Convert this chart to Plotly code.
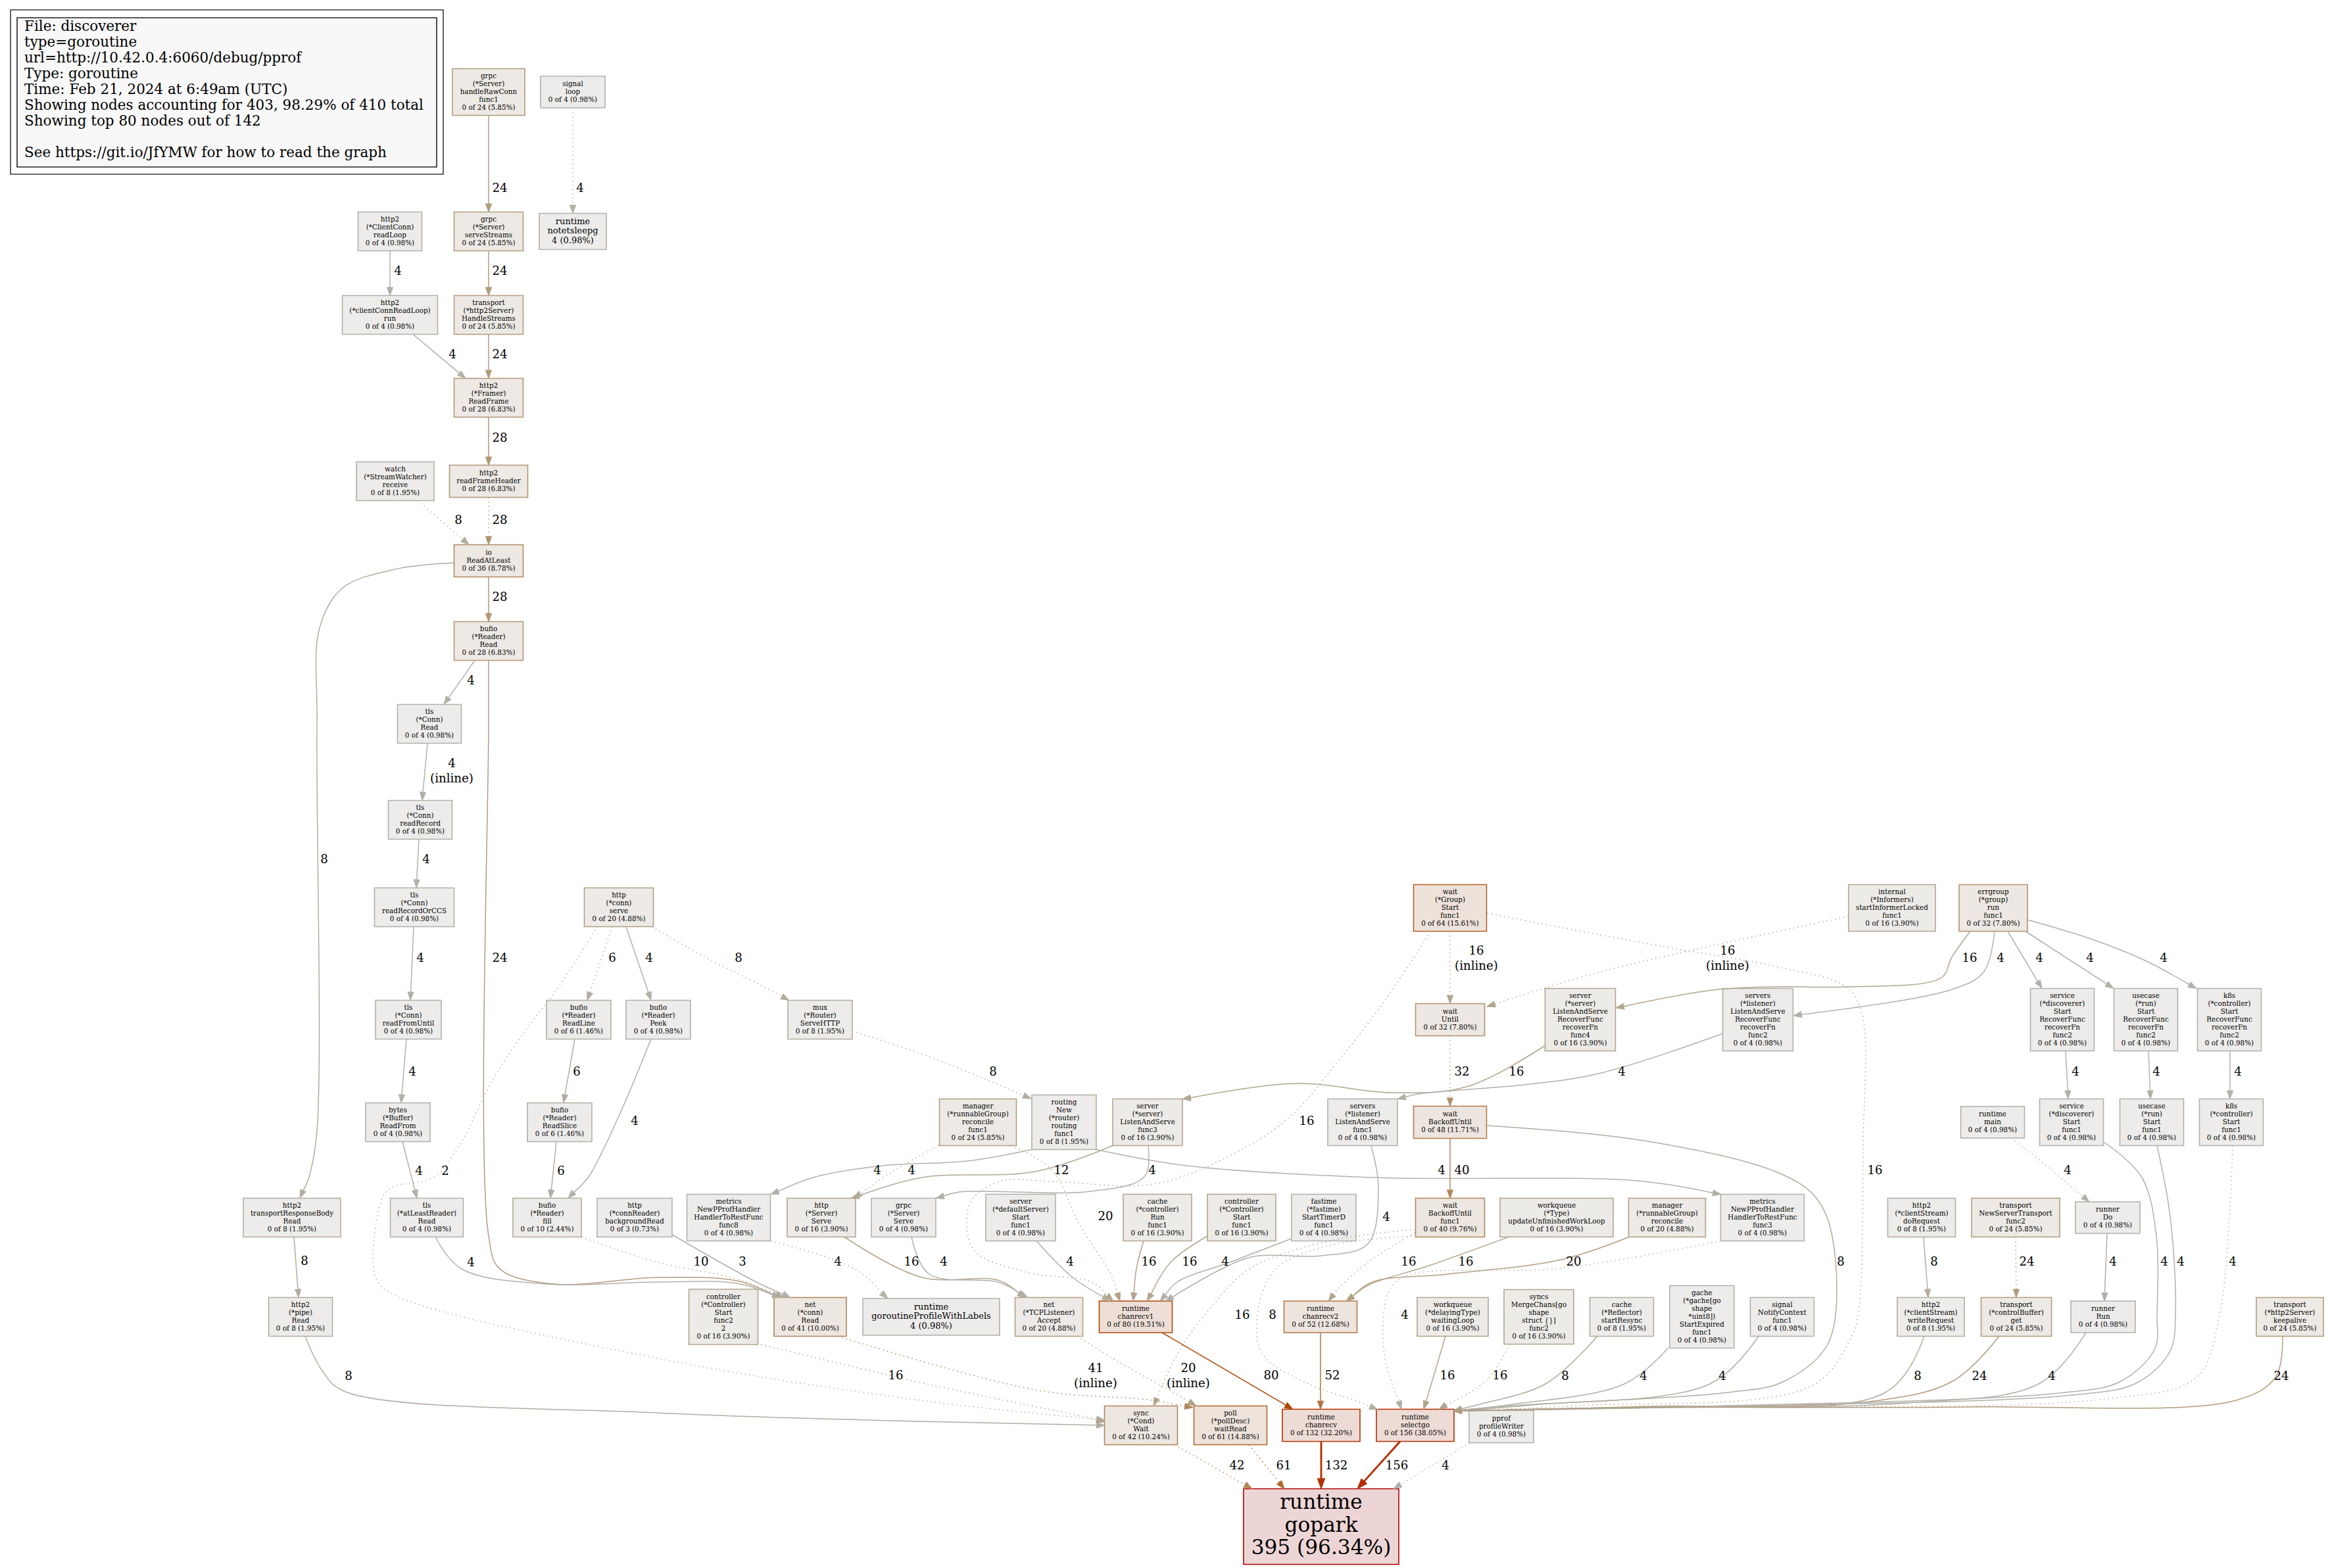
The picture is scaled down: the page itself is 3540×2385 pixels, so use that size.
import math
import plotly.graph_objects as go

W, H = 3540, 2385
TOTAL = 410

# ---------------- legend text ----------------
legend_lines = [
    "File: discoverer",
    "type=goroutine",
    "url=http://10.42.0.4:6060/debug/pprof",
    "Type: goroutine",
    "Time: Feb 21, 2024 at 6:49am (UTC)",
    "Showing nodes accounting for 403, 98.29% of 410 total",
    "Showing top 80 nodes out of 142",
    "",
    "See https://git.io/JfYMW for how to read the graph",
]

# ---------------- node data ----------------
node_keys = [
    "handleRawConn", "signalLoop", "readLoop", "serveStreams", "notetsleepg",
    "ccrlRun", "handleStreams", "readFrame", "watchReceive", "readFrameHeader",
    "readAtLeast", "bufioRead", "tlsRead", "readRecord", "readRecordOrCCS",
    "httpServe", "readFromUntil", "readLine", "peek", "mux",
    "waitUntil", "serverRecover", "serversRecover", "serviceRecover", "usecaseRecover",
    "k8sRecover", "groupStart", "informers", "errgroup", "bytesReadFrom",
    "readSlice", "managerFunc1", "routing", "serverFunc3", "serversFunc1",
    "backoffUntil", "runtimeMain", "serviceFunc1", "usecaseFunc1", "k8sFunc1",
    "trbRead", "atLeastReader", "fill", "backgroundRead", "metricsFunc8",
    "httpServerServe", "grpcServe", "defaultServer", "cacheRun", "controllerFunc1",
    "fastime", "backoffFunc1", "updateLoop", "managerReconcile", "metricsFunc3",
    "doRequest", "newServerTransport", "runnerDo", "pipeRead", "controllerFunc2",
    "netConnRead", "goroutineProfile", "accept", "chanrecv1", "chanrecv2",
    "waitingLoop", "mergeChans", "startResync", "gache", "notifyContext",
    "writeRequest", "controlBufferGet", "runnerRun", "keepalive", "condWait",
    "waitRead", "chanrecv", "selectgo", "profileWriter", "gopark",
]

node_labels = [
    "grpc\n(*Server)\nhandleRawConn\nfunc1\n0 of 24 (5.85%)",
    "signal\nloop\n0 of 4 (0.98%)",
    "http2\n(*ClientConn)\nreadLoop\n0 of 4 (0.98%)",
    "grpc\n(*Server)\nserveStreams\n0 of 24 (5.85%)",
    "runtime\nnotetsleepg\n4 (0.98%)",
    "http2\n(*clientConnReadLoop)\nrun\n0 of 4 (0.98%)",
    "transport\n(*http2Server)\nHandleStreams\n0 of 24 (5.85%)",
    "http2\n(*Framer)\nReadFrame\n0 of 28 (6.83%)",
    "watch\n(*StreamWatcher)\nreceive\n0 of 8 (1.95%)",
    "http2\nreadFrameHeader\n0 of 28 (6.83%)",
    "io\nReadAtLeast\n0 of 36 (8.78%)",
    "bufio\n(*Reader)\nRead\n0 of 28 (6.83%)",
    "tls\n(*Conn)\nRead\n0 of 4 (0.98%)",
    "tls\n(*Conn)\nreadRecord\n0 of 4 (0.98%)",
    "tls\n(*Conn)\nreadRecordOrCCS\n0 of 4 (0.98%)",
    "http\n(*conn)\nserve\n0 of 20 (4.88%)",
    "tls\n(*Conn)\nreadFromUntil\n0 of 4 (0.98%)",
    "bufio\n(*Reader)\nReadLine\n0 of 6 (1.46%)",
    "bufio\n(*Reader)\nPeek\n0 of 4 (0.98%)",
    "mux\n(*Router)\nServeHTTP\n0 of 8 (1.95%)",
    "wait\nUntil\n0 of 32 (7.80%)",
    "server\n(*server)\nListenAndServe\nRecoverFunc\nrecoverFn\nfunc4\n0 of 16 (3.90%)",
    "servers\n(*listener)\nListenAndServe\nRecoverFunc\nrecoverFn\nfunc2\n0 of 4 (0.98%)",
    "service\n(*discoverer)\nStart\nRecoverFunc\nrecoverFn\nfunc2\n0 of 4 (0.98%)",
    "usecase\n(*run)\nStart\nRecoverFunc\nrecoverFn\nfunc2\n0 of 4 (0.98%)",
    "k8s\n(*controller)\nStart\nRecoverFunc\nrecoverFn\nfunc2\n0 of 4 (0.98%)",
    "wait\n(*Group)\nStart\nfunc1\n0 of 64 (15.61%)",
    "internal\n(*Informers)\nstartInformerLocked\nfunc1\n0 of 16 (3.90%)",
    "errgroup\n(*group)\nrun\nfunc1\n0 of 32 (7.80%)",
    "bytes\n(*Buffer)\nReadFrom\n0 of 4 (0.98%)",
    "bufio\n(*Reader)\nReadSlice\n0 of 6 (1.46%)",
    "manager\n(*runnableGroup)\nreconcile\nfunc1\n0 of 24 (5.85%)",
    "routing\nNew\n(*router)\nrouting\nfunc1\n0 of 8 (1.95%)",
    "server\n(*server)\nListenAndServe\nfunc3\n0 of 16 (3.90%)",
    "servers\n(*listener)\nListenAndServe\nfunc1\n0 of 4 (0.98%)",
    "wait\nBackoffUntil\n0 of 48 (11.71%)",
    "runtime\nmain\n0 of 4 (0.98%)",
    "service\n(*discoverer)\nStart\nfunc1\n0 of 4 (0.98%)",
    "usecase\n(*run)\nStart\nfunc1\n0 of 4 (0.98%)",
    "k8s\n(*controller)\nStart\nfunc1\n0 of 4 (0.98%)",
    "http2\ntransportResponseBody\nRead\n0 of 8 (1.95%)",
    "tls\n(*atLeastReader)\nRead\n0 of 4 (0.98%)",
    "bufio\n(*Reader)\nfill\n0 of 10 (2.44%)",
    "http\n(*connReader)\nbackgroundRead\n0 of 3 (0.73%)",
    "metrics\nNewPProfHandler\nHandlerToRestFunc\nfunc8\n0 of 4 (0.98%)",
    "http\n(*Server)\nServe\n0 of 16 (3.90%)",
    "grpc\n(*Server)\nServe\n0 of 4 (0.98%)",
    "server\n(*defaultServer)\nStart\nfunc1\n0 of 4 (0.98%)",
    "cache\n(*controller)\nRun\nfunc1\n0 of 16 (3.90%)",
    "controller\n(*Controller)\nStart\nfunc1\n0 of 16 (3.90%)",
    "fastime\n(*fastime)\nStartTimerD\nfunc1\n0 of 4 (0.98%)",
    "wait\nBackoffUntil\nfunc1\n0 of 40 (9.76%)",
    "workqueue\n(*Type)\nupdateUnfinishedWorkLoop\n0 of 16 (3.90%)",
    "manager\n(*runnableGroup)\nreconcile\n0 of 20 (4.88%)",
    "metrics\nNewPProfHandler\nHandlerToRestFunc\nfunc3\n0 of 4 (0.98%)",
    "http2\n(*clientStream)\ndoRequest\n0 of 8 (1.95%)",
    "transport\nNewServerTransport\nfunc2\n0 of 24 (5.85%)",
    "runner\nDo\n0 of 4 (0.98%)",
    "http2\n(*pipe)\nRead\n0 of 8 (1.95%)",
    "controller\n(*Controller)\nStart\nfunc2\n2\n0 of 16 (3.90%)",
    "net\n(*conn)\nRead\n0 of 41 (10.00%)",
    "runtime\ngoroutineProfileWithLabels\n4 (0.98%)",
    "net\n(*TCPListener)\nAccept\n0 of 20 (4.88%)",
    "runtime\nchanrecv1\n0 of 80 (19.51%)",
    "runtime\nchanrecv2\n0 of 52 (12.68%)",
    "workqueue\n(*delayingType)\nwaitingLoop\n0 of 16 (3.90%)",
    "syncs\nMergeChans[go\nshape\nstruct {}]\nfunc2\n0 of 16 (3.90%)",
    "cache\n(*Reflector)\nstartResync\n0 of 8 (1.95%)",
    "gache\n(*gache[go\nshape\n*uint8])\nStartExpired\nfunc1\n0 of 4 (0.98%)",
    "signal\nNotifyContext\nfunc1\n0 of 4 (0.98%)",
    "http2\n(*clientStream)\nwriteRequest\n0 of 8 (1.95%)",
    "transport\n(*controlBuffer)\nget\n0 of 24 (5.85%)",
    "runner\nRun\n0 of 4 (0.98%)",
    "transport\n(*http2Server)\nkeepalive\n0 of 24 (5.85%)",
    "sync\n(*Cond)\nWait\n0 of 42 (10.24%)",
    "poll\n(*pollDesc)\nwaitRead\n0 of 61 (14.88%)",
    "runtime\nchanrecv\n0 of 132 (32.20%)",
    "runtime\nselectgo\n0 of 156 (38.05%)",
    "pprof\nprofileWriter\n0 of 4 (0.98%)",
    "runtime\ngopark\n395 (96.34%)",
]

node_cum = [
    24, 4, 4, 24, 4, 4, 24, 28, 8, 28,
    36, 28, 4, 4, 4, 20, 4, 6, 4, 8,
    32, 16, 4, 4, 4, 4, 64, 16, 32, 4,
    6, 24, 8, 16, 4, 48, 4, 4, 4, 4,
    8, 4, 10, 3, 4, 16, 4, 4, 16, 16,
    4, 40, 16, 20, 4, 8, 24, 4, 8, 16,
    41, 4, 20, 80, 52, 16, 16, 8, 4, 4,
    8, 24, 4, 24, 42, 61, 132, 156, 4, 395,
]
node_flat = [0] * 80
node_flat[node_keys.index("notetsleepg")] = 4
node_flat[node_keys.index("goroutineProfile")] = 4
node_flat[node_keys.index("gopark")] = 395

# ---------------- node layout (pixel centres and box sizes) ----------------
node_cx = [
    743, 871, 593, 743, 871, 593, 743, 743, 601, 743,
    743, 743, 653, 639, 630, 941, 621, 880, 1001, 1247,
    2205, 2403, 2673, 3136, 3263, 3390, 2205, 2877, 3031, 605,
    851, 1487, 1618, 1745, 2072, 2205, 3030, 3150, 3272, 3393,
    444, 649, 832, 965, 1108, 1249, 1374, 1552, 1760, 1888,
    2013, 2205, 2367, 2535, 2680, 2922, 3065, 3205, 457, 1100,
    1232, 1416, 1595, 1727, 2008, 2209, 2340, 2466, 2588, 2710,
    2936, 3066, 3198, 3482, 1735, 1871, 2009, 2152, 2283, 2009,
]
node_cy = [
    140, 140, 352, 352, 352, 479, 479, 605, 732, 732,
    853, 975, 1101, 1247, 1380, 1380, 1551, 1551, 1551, 1551,
    1551, 1551, 1551, 1551, 1551, 1551, 1381, 1381, 1381, 1707,
    1707, 1707, 1707, 1707, 1707, 1707, 1707, 1707, 1707, 1707,
    1852, 1852, 1852, 1852, 1852, 1852, 1852, 1852, 1852, 1852,
    1852, 1852, 1852, 1852, 1852, 1852, 1852, 1852, 2003, 2003,
    2003, 2003, 2003, 2003, 2003, 2003, 2003, 2003, 2003, 2003,
    2003, 2003, 2003, 2003, 2168, 2168, 2168, 2168, 2170, 2322,
]
node_w = [
    110, 98, 97, 105, 102, 145, 105, 105, 118, 119,
    105, 105, 97, 97, 121, 105, 100, 98, 98, 98,
    105, 107, 107, 97, 97, 97, 111, 132, 104, 98,
    98, 117, 98, 106, 106, 111, 97, 97, 97, 97,
    148, 111, 104, 114, 127, 104, 98, 106, 104, 104,
    98, 105, 172, 117, 127, 103, 134, 98, 97, 105,
    110, 208, 103, 111, 111, 108, 106, 97, 98, 97,
    102, 107, 98, 102, 111, 111, 118, 118, 98, 236,
]
node_h = [
    71, 48, 59, 59, 55, 59, 59, 59, 59, 49,
    49, 59, 59, 59, 59, 59, 59, 59, 59, 59,
    49, 95, 95, 95, 95, 95, 71, 71, 71, 59,
    59, 71, 83, 71, 71, 49, 48, 71, 71, 71,
    59, 59, 59, 59, 71, 59, 59, 71, 71, 71,
    71, 59, 59, 59, 71, 59, 59, 48, 59, 84,
    59, 56, 59, 48, 48, 59, 83, 59, 95, 59,
    59, 59, 48, 59, 59, 59, 49, 49, 49, 115,
]

# ---------------- edge data ----------------
edge_from = [
    "handleRawConn", "signalLoop", "readLoop", "serveStreams", "ccrlRun",
    "handleStreams", "readFrame", "watchReceive", "readFrameHeader", "readAtLeast",
    "readAtLeast", "bufioRead", "bufioRead", "tlsRead", "readRecord",
    "readRecordOrCCS", "readFromUntil", "bytesReadFrom", "atLeastReader", "httpServe",
    "httpServe", "httpServe", "httpServe", "readLine", "readSlice",
    "peek", "fill", "backgroundRead", "trbRead", "pipeRead",
    "mux", "routing", "routing", "managerFunc1", "managerFunc1",
    "serverFunc3", "serverFunc3", "httpServerServe", "grpcServe", "metricsFunc8",
    "defaultServer", "cacheRun", "controllerFunc1", "fastime", "groupStart",
    "serversFunc1", "backoffFunc1", "updateLoop", "managerReconcile", "backoffFunc1",
    "backoffFunc1", "metricsFunc3", "waitingLoop", "mergeChans", "startResync",
    "gache", "notifyContext", "backoffUntil", "groupStart", "writeRequest",
    "controlBufferGet", "runnerRun", "serviceFunc1", "usecaseFunc1", "k8sFunc1",
    "keepalive", "errgroup", "errgroup", "errgroup", "errgroup",
    "errgroup", "serviceRecover", "usecaseRecover", "k8sRecover", "runtimeMain",
    "runnerDo", "doRequest", "newServerTransport", "informers", "groupStart",
    "waitUntil", "backoffUntil", "serverRecover", "serversRecover", "chanrecv1",
    "chanrecv2", "netConnRead", "accept", "controllerFunc2", "condWait",
    "waitRead", "chanrecv", "selectgo", "profileWriter",
]
edge_to = [
    "serveStreams", "notetsleepg", "ccrlRun", "handleStreams", "readFrame",
    "readFrame", "readFrameHeader", "readAtLeast", "readAtLeast", "bufioRead",
    "trbRead", "tlsRead", "netConnRead", "readRecord", "readRecordOrCCS",
    "readFromUntil", "bytesReadFrom", "atLeastReader", "netConnRead", "condWait",
    "readLine", "peek", "mux", "readSlice", "fill",
    "fill", "netConnRead", "netConnRead", "pipeRead", "condWait",
    "routing", "metricsFunc8", "metricsFunc3", "httpServerServe", "chanrecv1",
    "httpServerServe", "grpcServe", "accept", "accept", "goroutineProfile",
    "chanrecv1", "chanrecv1", "chanrecv1", "chanrecv1", "chanrecv1",
    "chanrecv1", "chanrecv2", "chanrecv2", "chanrecv2", "condWait",
    "selectgo", "selectgo", "selectgo", "selectgo", "selectgo",
    "selectgo", "selectgo", "selectgo", "selectgo", "selectgo",
    "selectgo", "selectgo", "selectgo", "selectgo", "selectgo",
    "selectgo", "serverRecover", "serversRecover", "serviceRecover", "usecaseRecover",
    "k8sRecover", "serviceFunc1", "usecaseFunc1", "k8sFunc1", "runnerDo",
    "runnerRun", "writeRequest", "controlBufferGet", "waitUntil", "waitUntil",
    "backoffUntil", "backoffFunc1", "serverFunc3", "serversFunc1", "chanrecv",
    "chanrecv", "waitRead", "waitRead", "condWait", "gopark",
    "gopark", "gopark", "gopark", "gopark",
]
edge_value = [
    24, 4, 4, 24, 4, 24, 28, 8, 28, 28,
    8, 4, 24, 4, 4, 4, 4, 4, 4, 2,
    6, 4, 8, 6, 6, 4, 10, 3, 8, 8,
    8, 4, 4, 4, 20, 12, 4, 16, 4, 4,
    4, 16, 16, 4, 16, 4, 16, 16, 20, 16,
    8, 4, 16, 16, 8, 4, 4, 8, 16, 8,
    24, 4, 4, 4, 4, 24, 16, 4, 4, 4,
    4, 4, 4, 4, 4, 4, 8, 24, 16, 16,
    32, 40, 16, 4, 80, 52, 41, 20, 16, 42,
    61, 132, 156, 4,
]
edge_residual = [
    0, 1, 0, 0, 0, 0, 0, 1, 1, 0,
    0, 0, 0, 0, 0, 0, 0, 0, 0, 1,
    1, 0, 1, 0, 0, 0, 1, 0, 0, 0,
    1, 0, 0, 1, 1, 0, 0, 0, 0, 1,
    0, 0, 0, 0, 1, 0, 1, 0, 0, 1,
    1, 1, 0, 1, 0, 0, 0, 0, 1, 0,
    0, 0, 0, 0, 1, 0, 0, 0, 0, 0,
    0, 0, 0, 0, 1, 0, 0, 1, 1, 1,
    1, 0, 0, 0, 0, 0, 1, 1, 1, 1,
    1, 0, 0, 1,
]
edge_inline_idx = [13, 78, 79, 86, 87]


# ---------------- edge routing (layout hints) ----------------
def R(sdx=0, edx=0, via=(), sdy=None, edy=None):
    return dict(sdx=sdx, edx=edx, via=list(via), sdy=sdy, edy=edy)


SG = dict(edx=58, edy=-22)  # bundle entry at the selectgo top-right corner
edge_route = [
    R(), R(), R(), R(), R(35, -35),
    R(), R(), R(34, -30), R(), R(),
    R(-53, 12, [(600, 866), (520, 895), (486, 955), (482, 1100), (482, 1720), (470, 1790)], sdy=3),
    R(-21, 22),
    R(0, -45, [(743, 1100), (743, 1880), (760, 1930), (842, 1953), (1000, 1943), (1120, 1948)]),
    R(-3, 3), R(-2, 3),
    R(-1, 3), R(-3, 5), R(7, -15),
    R(13, -45, [(702, 1930), (829, 1953), (1000, 1950), (1120, 1952)]),
    R(-33, -55, [(850, 1500), (790, 1580), (745, 1650), (700, 1740), (660, 1790), (590, 1810),
                 (572, 1860), (572, 1945), (600, 1970), (1000, 2066), (1400, 2130)], edy=-8),
    R(-10, 13), R(11, -11), R(50, -47, [(1080, 1460), (1150, 1495)]), R(-6, 6), R(-5, 5),
    R(-11, 32, [(940, 1700), (895, 1790)]),
    R(52, -40, [(1000, 1920), (1120, 1945)]),
    R(57, -30, [(1150, 1950)], sdy=26),
    R(3, -3),
    R(7, -55, [(490, 2085), (523, 2116), (1000, 2149), (1400, 2162)], edy=0),
    R(49, -50, [(1420, 1610)], sdy=17, edy=-36),
    R(-49, 64, [(1471, 1766), (1344, 1773), (1240, 1790)]),
    R(49, -63, [(1804, 1773), (2087, 1791), (2489, 1796)]),
    R(-59, 49, [(1360, 1780)]),
    R(50, -24, [(1600, 1780), (1640, 1860), (1690, 1940)]),
    R(-53, 45, [(1574, 1782), (1402, 1791)]),
    R(1, 49, [(1740, 1790), (1660, 1812), (1459, 1813)]),
    R(35, -35, [(1402, 1943), (1517, 1947)]),
    R(12, -32, [(1413, 1938), (1517, 1950)]),
    R(64, -66, [(1300, 1930)]),
    R(24, -39, [(1631, 1943)]),
    R(-21, -4, [(1728, 1930)]),
    R(-52, 17, [(1780, 1920)], sdy=28),
    R(-49, 37, [(1870, 1920), (1790, 1950)], sdy=32),
    R(-29, -34, [(2100, 1530), (2030, 1620), (1960, 1700), (1876, 1755), (1754, 1801), (1600, 1797),
                 (1520, 1797), (1475, 1830), (1480, 1900), (1560, 1935), (1660, 1950)]),
    R(13, 45, [(2096, 1808), (2080, 1892), (2009, 1910), (1907, 1911), (1856, 1931)]),
    R(-53, 12, [(2080, 1920), (2035, 1960)], sdy=23),
    R(-73, 39, [(2173, 1925), (2080, 1955)]),
    R(-58, 39, [(2374, 1916), (2202, 1938), (2087, 1950)]),
    R(-53, 19, [(2010, 1890), (1900, 1930), (1840, 1990), (1790, 2060)], sdy=18),
    R(-52, -57, [(2020, 1895), (1940, 1930), (1912, 2000), (1920, 2060), (1990, 2105), (2060, 2130)], sdy=28, edy=-24),
    R(-63, -21, [(2374, 1929), (2137, 1941), (2111, 1966), (2105, 2060)]),
    R(-11, 13),
    R(-44, 36, [(2260, 2100)]),
    R(-37, via=[(2350, 2105), (2250, 2136)], **SG),
    R(-51, via=[(2470, 2105), (2300, 2136)], sdy=47, **SG),
    R(-36, via=[(2600, 2105), (2330, 2137)], **SG),
    R(56, via=[(2500, 1735), (2700, 1782), (2760, 1820), (2786, 1880), (2781, 2041), (2713, 2101),
               (2627, 2118), (2300, 2138)], sdy=5, **SG),
    R(56, via=[(2530, 1440), (2700, 1470), (2807, 1501), (2831, 1540), (2833, 1746), (2826, 1996),
               (2815, 2034), (2755, 2108), (2400, 2138)], sdy=8, **SG),
    R(-10, via=[(2867, 2118), (2500, 2139)], **SG),
    R(-26, via=[(2969, 2101), (2849, 2131), (2500, 2140)], **SG),
    R(-26, via=[(3100, 2105), (2900, 2134), (2500, 2140)], **SG),
    R(49, via=[(3257, 1791), (3279, 1880), (3280, 2000), (3277, 2051), (3225, 2101), (3140, 2118),
               (2600, 2139)], sdy=30, **SG),
    R(8, via=[(3300, 1850), (3308, 2000), (3300, 2055), (3250, 2103), (3150, 2122), (2600, 2139)], **SG),
    R(2, via=[(3390, 1850), (3375, 2000), (3340, 2095), (3200, 2128), (2600, 2140)], **SG),
    R(-11, via=[(3460, 2095), (3400, 2130), (3000, 2140), (2500, 2141)], **SG),
    R(-35, 54, [(2968, 1456), (2952, 1487), (2807, 1501), (2700, 1501), (2604, 1506)], edy=-18),
    R(2, 54, [(3016, 1479), (2968, 1505)], edy=-6),
    R(22, -31),
    R(49, -49),
    R(52, -50, [(3182, 1429), (3262, 1461)], sdy=18),
    R(5, -5), R(4, -2), R(1, -2),
    R(29, -28, [(3120, 1780)]),
    R(-1, 2), R(3, -4), R(),
    R(-66, 56, [(2431, 1479)], sdy=13, edy=-20),
    R(), R(), R(),
    R(-53, 53, [(2230, 1653), (2116, 1662), (1972, 1648)], sdy=39),
    R(-53, 53, [(2431, 1633), (2317, 1650), (2156, 1664)], sdy=21),
    R(40, -43),
    R(0, -1),
    R(42, -57, [(1580, 2115), (1746, 2129)], edy=-27),
    R(43, -52, [(1705, 2074), (1779, 2115)]),
    R(57, -55, [(1414, 2106), (1663, 2158)], sdy=42, edy=-5),
    R(51, -105), R(28, -56), R(), R(-23, 55), R(-48, 110),
]

edge_label_xy = [
    (760, 287), (882, 287), (605, 413), (760, 413), (688, 540),
    (760, 540), (760, 667), (697, 792), (760, 792), (760, 909),
    (493, 1308), (716, 1036), (760, 1458), (687, 1173), (648, 1308),
    (639, 1458), (627, 1631), (637, 1782), (716, 1921), (677, 1782),
    (931, 1458), (987, 1458), (1123, 1458), (877, 1631), (853, 1782),
    (965, 1706), (1066, 1920), (1129, 1920), (463, 1919), (530, 2094),
    (1510, 1631), (1334, 1781), (2192, 1781), (1386, 1781), (1681, 1851),
    (1614, 1781), (1752, 1781), (1386, 1920), (1435, 1920), (1274, 1920),
    (1627, 1920), (1747, 1920), (1809, 1920), (1863, 1920), (1987, 1706),
    (2108, 1852), (2142, 1920), (2229, 1920), (2393, 1920), (1889, 2001),
    (1935, 2001), (2136, 2001), (2201, 2093), (2281, 2093), (2380, 2094),
    (2499, 2094), (2619, 2094), (2799, 1920), (2851, 1781), (2916, 2094),
    (3010, 2094), (3120, 2094), (3291, 1920), (3316, 1920), (3395, 1920),
    (3469, 2094), (2995, 1458), (3042, 1458), (3101, 1458), (3178, 1458),
    (3290, 1458), (3156, 1631), (3279, 1631), (3403, 1631), (3144, 1781),
    (3213, 1920), (2941, 1920), (3082, 1920), (2627, 1458), (2245, 1458),
    (2223, 1631), (2223, 1781), (2306, 1631), (2466, 1631), (1933, 2093),
    (2026, 2093), (1666, 2093), (1807, 2093), (1362, 2093), (1881, 2230),
    (1952, 2230), (2032, 2230), (2124, 2230), (2198, 2230),
]


# ---------------- style helpers ----------------
def dot_color(score, background):
    shift = 0.7
    if background:
        sat, val = 0.1, 0.93
    else:
        sat, val = 1.0, 0.7
    score = max(-1.0, min(1.0, score))
    if abs(score) < 0.2:
        sat *= abs(score) / 0.2
    if score > 0:
        score = score ** (1.0 - shift)
    r = val
    g = val * (1 - sat * score)
    b = val * (1 - sat)
    return "#%02x%02x%02x" % (int(r * 255), int(g * 255), int(b * 255))


FONT = "DejaVu Serif"
FSCALE = 1.3  # px per pt used for rendered text
idx = {k: i for i, k in enumerate(node_keys)}

fig = go.Figure()
shapes = []

# legend boxes
shapes.append(dict(type="rect", x0=16, x1=674, y0=15, y1=265, layer="below",
                   line=dict(color="#3c3c3c", width=1.6), fillcolor="rgba(0,0,0,0)"))
shapes.append(dict(type="rect", x0=26, x1=664, y0=27, y1=254, layer="below",
                   line=dict(color="#222222", width=1.6), fillcolor="#f8f8f8"))

# node boxes
for i in range(len(node_keys)):
    s = node_cum[i] / TOTAL
    shapes.append(dict(
        type="rect", layer="below",
        x0=node_cx[i] - node_w[i] / 2, x1=node_cx[i] + node_w[i] / 2,
        y0=node_cy[i] - node_h[i] / 2, y1=node_cy[i] + node_h[i] / 2,
        line=dict(color=dot_color(s, False), width=1.6),
        fillcolor=dot_color(s, True)))

# edges
for i in range(len(edge_from)):
    si, di = idx[edge_from[i]], idx[edge_to[i]]
    r = edge_route[i]
    sx = node_cx[si] + r["sdx"]
    sy = node_cy[si] + (node_h[si] / 2 if r["sdy"] is None else r["sdy"])
    ex = node_cx[di] + r["edx"]
    ey = node_cy[di] + (-node_h[di] / 2 if r["edy"] is None else r["edy"])
    pts = [(sx, sy)] + r["via"] + [(ex, ey)]
    val = edge_value[i]
    col = dot_color(val / TOTAL, False)
    pen = 1 + int(min(val * 5 / TOTAL, 5))
    lw = 1.5 if pen == 1 else 2.9
    asc = 1.0 if pen == 1 else 1.25
    px, py = pts[-2]
    dx, dy = ex - px, ey - py
    L = math.hypot(dx, dy) or 1.0
    ux, uy = dx / L, dy / L
    al, aw = 12.5 * asc, 4.6 * asc
    bx, by = ex - ux * al, ey - uy * al
    pts[-1] = (bx + ux * 1.0, by + uy * 1.0)
    fig.add_trace(go.Scatter(
        x=[p[0] for p in pts], y=[p[1] for p in pts], mode="lines",
        line=dict(color=col, width=lw, shape="spline", smoothing=1.0,
                  dash="1.5px,5px" if edge_residual[i] else "solid"),
        hoverinfo="skip", showlegend=False))
    fig.add_trace(go.Scatter(
        x=[ex, bx - uy * aw, bx + uy * aw, ex],
        y=[ey, by + ux * aw, by - ux * aw, ey],
        mode="lines", fill="toself", fillcolor=col,
        line=dict(color=col, width=1), hoverinfo="skip", showlegend=False))

# node text (one point per line)
tx, ty, tt, ts = [], [], [], []
for i in range(len(node_keys)):
    fpt = 8
    if node_flat[i]:
        fpt += math.ceil(16 * math.sqrt(node_flat[i] / 395))
    fs = fpt * FSCALE
    lh = fpt * 1.25 * (1.2 if fpt == 8 else 1.15)
    lines = node_labels[i].split("\n")
    n = len(lines)
    for j, ln in enumerate(lines):
        tx.append(node_cx[i])
        ty.append(node_cy[i] + (j - (n - 1) / 2) * lh)
        tt.append(ln)
        ts.append(fs)
fig.add_trace(go.Scatter(x=tx, y=ty, text=tt, mode="text", textposition="middle center",
                         textfont=dict(family=FONT, size=ts, color="black"),
                         hoverinfo="skip", showlegend=False))

# edge labels
lx, ly, lt = [], [], []
for i in range(len(edge_from)):
    x, y = edge_label_xy[i]
    if i in edge_inline_idx:
        lx += [x, x]
        ly += [y - 11, y + 12]
        lt += [str(edge_value[i]), "(inline)"]
    else:
        lx.append(x)
        ly.append(y)
        lt.append(str(edge_value[i]))
fig.add_trace(go.Scatter(x=lx, y=ly, text=lt, mode="text", textposition="middle center",
                         textfont=dict(family=FONT, size=14 * FSCALE, color="black"),
                         hoverinfo="skip", showlegend=False))

# legend text
gy = [42 + 24 * k for k in range(len(legend_lines))]
fig.add_trace(go.Scatter(x=[37] * len(legend_lines), y=gy, text=legend_lines, mode="text",
                         textposition="middle right",
                         textfont=dict(family=FONT, size=21.5, color="black"),
                         hoverinfo="skip", showlegend=False))

fig.update_layout(
    width=W, height=H, margin=dict(l=0, r=0, t=0, b=0),
    paper_bgcolor="white", plot_bgcolor="white", shapes=shapes, showlegend=False,
    xaxis=dict(range=[0, W], visible=False, fixedrange=True),
    yaxis=dict(range=[H, 0], visible=False, fixedrange=True),
)

fig.write_html("out.html", config={"displayModeBar": False, "staticPlot": True},
               post_script="document.body.style.margin='0px';document.body.style.overflow='hidden';")
